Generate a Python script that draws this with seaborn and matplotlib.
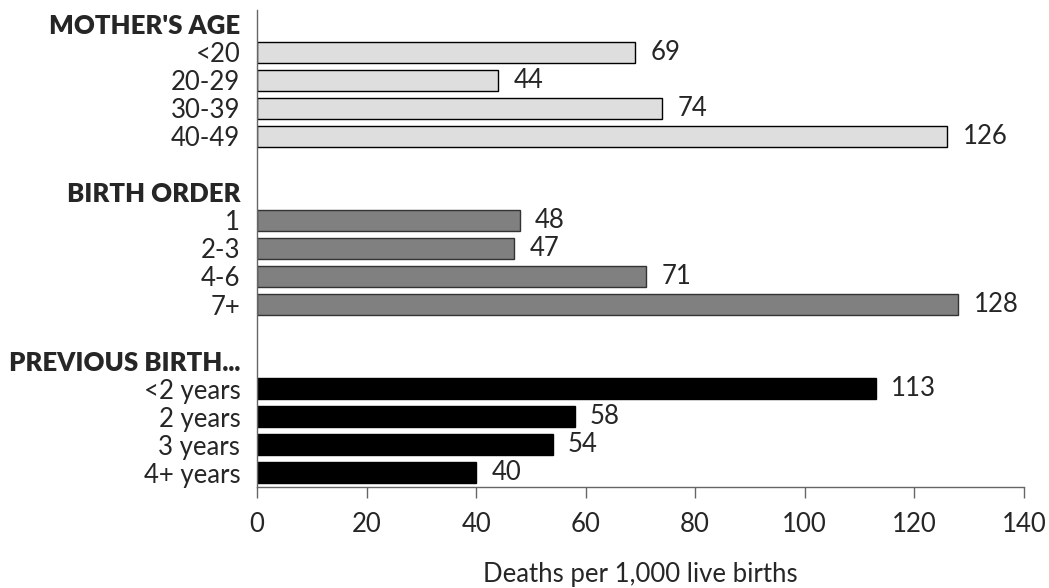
"""Infant mortality by mother's age, birth order and birth interval."""

import matplotlib
matplotlib.use("Agg")
import matplotlib.pyplot as plt
import numpy as np
import pandas as pd
import seaborn as sns

HEADINGS = ["MOTHER'S AGE", "BIRTH ORDER", "PREVIOUS BIRTH..."]
AGE_LABELS = ["<20", "20-29", "30-39", "40-49"]
AGE_VALUES = [69, 44, 74, 126]
ORDER_LABELS = ["1", "2-3", "4-6", "7+"]
ORDER_VALUES = [48, 47, 71, 128]
INTERVAL_LABELS = ["<2 years", "2 years", "3 years", "4+ years"]
INTERVAL_VALUES = [113, 58, 54, 40]

GROUP_COLORS = {"age": "#dedede", "order": "#808080", "interval": "#000000"}
EDGE_COLORS = {"age": "#000000", "order": "#333333", "interval": "#000000"}
FS = 18.5

sns.set_style("white")
plt.rcParams["font.family"] = ["Lato", "DejaVu Sans"]

groups = [
    ("age", AGE_LABELS, AGE_VALUES),
    ("order", ORDER_LABELS, ORDER_VALUES),
    ("interval", INTERVAL_LABELS, INTERVAL_VALUES),
]

rows = []
row_order = []
for (key, labels, values), heading in zip(groups, HEADINGS):
    row_order.append(heading)
    for lab, val in zip(labels, values):
        rows.append({"row": lab, "value": val, "group": key})
        row_order.append(lab)
    row_order.append(" " * (len(row_order) % 7 + 1))  # blank spacer
row_order = row_order[:-1]
df = pd.DataFrame(rows)

fig = plt.figure(figsize=(10.49, 5.88), dpi=100)
ax = fig.add_axes([0.245, 0.172, 0.731, 0.811])

sns.barplot(data=df, x="value", y="row", hue="group", order=row_order,
            palette=GROUP_COLORS, dodge=False, width=0.75, legend=False, ax=ax)

for patch_group, container in zip(GROUP_COLORS, ax.containers):
    for bar in container:
        bar.set_edgecolor(EDGE_COLORS[patch_group])
        bar.set_linewidth(1.0)
    ax.bar_label(container, fmt="%d", padding=11, fontsize=FS)

ax.set_xlim(0, 140)
ax.set_ylim(len(row_order) - 0.5, -0.5)
ax.set_xticks(np.arange(0, 141, 20))
ax.tick_params(axis="x", length=8, width=1, color="#666666", labelsize=FS, pad=10,
               direction="out", bottom=True)
ax.tick_params(axis="y", length=0, labelsize=FS, pad=12)
for lbl in ax.get_yticklabels():
    if lbl.get_text() in HEADINGS:
        lbl.set_fontweight("heavy")

ax.set_ylabel("")
ax.set_xlabel("Deaths per 1,000 live births", fontsize=FS, labelpad=18)
for side in ["top", "right"]:
    ax.spines[side].set_visible(False)
for side in ["left", "bottom"]:
    ax.spines[side].set_color("#666666")
    ax.spines[side].set_linewidth(1.0)

fig.savefig("out.png", dpi=100)
plt.close(fig)
